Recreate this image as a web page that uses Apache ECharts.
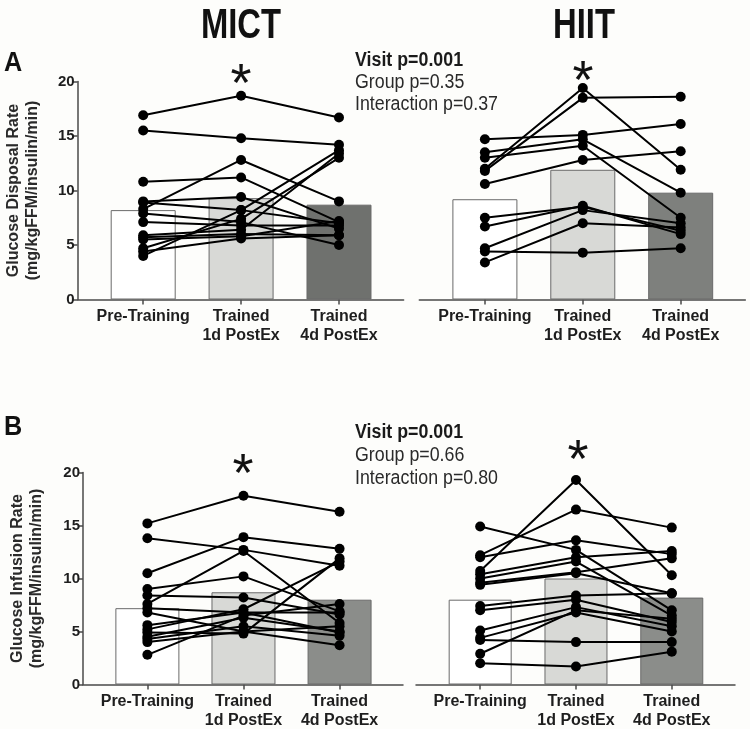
<!DOCTYPE html>
<html>
<head>
<meta charset="utf-8">
<script src="https://cdn.jsdelivr.net/npm/echarts@6/dist/echarts.min.js"></script>
<style>
html,body{margin:0;padding:0;background:#fdfdfb;}
#chart{width:750px;height:729px;}
</style>
</head>
<body>
<div id="chart"></div>
<script>
// ---- categories / ticks ----
const categories = ['Pre-Training', 'Trained\n1d PostEx', 'Trained\n4d PostEx'];
const yTicks = [0, 5, 10, 15, 20];

// ---- Panel A: Glucose Disposal Rate, MICT ----
const gdrMictPre = [16.9, 15.5, 10.8, 9.0, 8.3, 8.9, 7.9, 7.1, 5.9, 5.7, 5.5, 4.7, 4.4, 4.0];
const gdrMictD1  = [18.7, 14.8, 11.2, 9.4, 12.8, 8.2, 7.1, 6.8, 6.4, 6.0, 5.8, 7.4, 5.6, 8.2];
const gdrMictD4  = [16.7, 14.2, 7.1, 6.5, 9.0, 7.0, 5.0, 6.8, 13.4, 5.9, 7.2, 13.0, 5.9, 13.7];
const gdrMictBars = [8.2, 9.3, 8.7];

// ---- Panel A: Glucose Disposal Rate, HIIT ----
const gdrHiitPre = [14.7, 13.5, 13.0, 12.0, 11.8, 10.6, 7.5, 6.7, 4.7, 4.4, 3.4];
const gdrHiitD1  = [15.1, 14.7, 14.1, 19.4, 18.5, 12.8, 8.5, 8.6, 8.2, 4.3, 7.0];
const gdrHiitD4  = [16.1, 9.8, 7.5, 11.9, 18.6, 13.6, 6.3, 6.0, 7.0, 4.7, 6.6];
const gdrHiitBars = [9.2, 11.9, 9.8];

// ---- Panel B: Glucose Infusion Rate, MICT ----
const girMictPre = [15.2, 13.8, 10.5, 9.0, 8.4, 7.6, 7.2, 6.8, 5.6, 5.2, 4.9, 4.5, 4.3, 4.0, 2.8];
const girMictD1  = [17.8, 12.7, 13.9, 10.2, 8.2, 12.6, 6.8, 5.0, 6.8, 7.1, 4.8, 6.3, 5.5, 5.0, 6.5];
const girMictD4  = [16.3, 11.2, 12.8, 6.9, 6.6, 5.8, 6.8, 5.5, 4.9, 11.6, 11.9, 5.0, 4.6, 3.7, 7.6];
const girMictBars = [7.2, 8.7, 8.0];

// ---- Panel B: Glucose Infusion Rate, HIIT ----
const girHiitPre = [14.9, 12.2, 12.0, 10.7, 10.4, 10.0, 9.6, 9.4, 7.4, 7.0, 5.1, 4.4, 4.2, 2.9, 2.0];
const girHiitD1  = [12.7, 16.5, 13.6, 19.3, 12.0, 11.6, 10.6, 10.5, 8.4, 8.0, 7.3, 6.8, 4.0, 7.0, 1.7];
const girHiitD4  = [7.0, 14.8, 12.3, 10.3, 12.6, 6.5, 11.9, 8.6, 8.6, 5.9, 5.5, 5.0, 4.0, 6.2, 3.1];
const girHiitBars = [8.0, 10.0, 8.2];

// ---- texts ----
const groupTitles = ['MICT', 'HIIT'];
const panelLetters = ['A', 'B'];
const yNames = ['Glucose Disposal Rate\n(mg/kgFFM/insulin/min)', 'Glucose Infusion Rate\n(mg/kgFFM/insulin/min)'];
const statsA = ['Visit p=0.001', 'Group p=0.35', 'Interaction p=0.37'];
const statsB = ['Visit p=0.001', 'Group p=0.66', 'Interaction p=0.80'];

const FONT = '"Liberation Sans", Arial, sans-serif';
const X_MIN = -0.67, X_MAX = 2.66;

const panels = [
  {grid:{left:77.6, top:81.5, width:326, height:218}, showY:true, yName:yNames[0], nameGap:36, pre:gdrMictPre, d1:gdrMictD1, d4:gdrMictD4, bars:gdrMictBars, barW:65, colors:['#ffffff','#d8d9d6','#6f716e']},
  {grid:{left:419.3, top:81.5, width:326, height:218}, showY:false, yName:'', nameGap:36, pre:gdrHiitPre, d1:gdrHiitD1, d4:gdrHiitD4, bars:gdrHiitBars, barW:65, colors:['#ffffff','#d8d9d6','#7e807d']},
  {grid:{left:83, top:472.5, width:320, height:212}, showY:true, yName:yNames[1], nameGap:37, pre:girMictPre, d1:girMictD1, d4:girMictD4, bars:girMictBars, barW:64, colors:['#ffffff','#d8d9d6','#8b8d8a']},
  {grid:{left:416, top:472.5, width:319, height:212}, showY:false, yName:'', nameGap:36, pre:girHiitPre, d1:girHiitD1, d4:girHiitD4, bars:girHiitBars, barW:63, colors:['#ffffff','#d8d9d6','#8b8d8a']}
];

const grids = [], xAxes = [], yAxes = [], series = [];
panels.forEach((p, i) => {
  grids.push(Object.assign({containLabel:false, outerBoundsMode:'none'}, p.grid));
  xAxes.push({
    type:'value', gridIndex:i, min:X_MIN, max:X_MAX,
    axisLine:{show:true, onZero:false, lineStyle:{color:'#4a4a4a', width:1.5}},
    axisTick:{show:true, customValues:[0,1,2], length:5, lineStyle:{color:'#4a4a4a', width:1.5}},
    axisLabel:{show:true, customValues:[0,1,2], formatter:(v)=>categories[Math.round(v)] || '',
      color:'#1e1e1e', fontFamily:FONT, fontWeight:'bold', fontSize:16, lineHeight:19, margin:8},
    splitLine:{show:false}
  });
  yAxes.push({
    type:'value', gridIndex:i, min:0, max:20, interval:5, show:p.showY,
    name:p.yName, nameLocation:'middle', nameGap:p.nameGap,
    nameTextStyle:{color:'#2a2a2a', fontFamily:FONT, fontWeight:'bold', fontSize:16, lineHeight:19},
    axisLine:{show:true, onZero:false, lineStyle:{color:'#4a4a4a', width:1.5}},
    axisTick:{show:true, length:5, lineStyle:{color:'#4a4a4a', width:1.5}},
    axisLabel:{color:'#1e1e1e', fontFamily:FONT, fontWeight:'bold', fontSize:15, margin:3},
    splitLine:{show:false}
  });
  series.push({
    type:'bar', xAxisIndex:i, yAxisIndex:i, barWidth:p.barW, z:1, silent:true,
    data:p.bars.map((v,k)=>({value:[k,v], itemStyle:{color:p.colors[k], borderColor:'#6a6a6a', borderWidth:1}}))
  });
  p.pre.forEach((v, s) => {
    series.push({
      type:'line', xAxisIndex:i, yAxisIndex:i, z:3, silent:true,
      symbol:'circle', symbolSize:10, animation:false,
      lineStyle:{color:'#000', width:2}, itemStyle:{color:'#000'},
      data:[[0, p.pre[s]], [1, p.d1[s]], [2, p.d4[s]]]
    });
  });
});

function txt(x, y, text, opts) {
  return Object.assign({type:'text', x:x, y:y, silent:true,
    style:Object.assign({text:text, fill:'#111', textAlign:'left', textVerticalAlign:'middle'}, opts.style || {})},
    opts.el || {});
}

const statFont = 20, statScale = 0.89;
const graphics = [
  txt(241, 26, groupTitles[0], {style:{font:'bold 42px '+FONT, textAlign:'center'}, el:{scaleX:0.78}}),
  txt(584, 26, groupTitles[1], {style:{font:'bold 42px '+FONT, textAlign:'center'}, el:{scaleX:0.78}}),
  txt(4, 63, panelLetters[0], {style:{font:'bold 28px '+FONT}, el:{scaleX:0.9}}),
  txt(4, 427, panelLetters[1], {style:{font:'bold 28px '+FONT}, el:{scaleX:0.9}}),
  txt(355, 60, statsA[0], {style:{font:'bold '+statFont+'px '+FONT, fill:'#1a1a1a'}, el:{scaleX:statScale}}),
  txt(355, 82, statsA[1], {style:{font:statFont+'px '+FONT, fill:'#2a2a2a'}, el:{scaleX:statScale}}),
  txt(355, 104, statsA[2], {style:{font:statFont+'px '+FONT, fill:'#2a2a2a'}, el:{scaleX:statScale}}),
  txt(355, 432, statsB[0], {style:{font:'bold '+statFont+'px '+FONT, fill:'#1a1a1a'}, el:{scaleX:statScale}}),
  txt(355, 455, statsB[1], {style:{font:statFont+'px '+FONT, fill:'#2a2a2a'}, el:{scaleX:statScale}}),
  txt(355, 478, statsB[2], {style:{font:statFont+'px '+FONT, fill:'#2a2a2a'}, el:{scaleX:statScale}}),
  txt(241, 86, '*', {style:{font:'54px '+FONT, textAlign:'center'}}),
  txt(583, 83, '*', {style:{font:'54px '+FONT, textAlign:'center'}}),
  txt(243, 476, '*', {style:{font:'54px '+FONT, textAlign:'center'}}),
  txt(578, 462, '*', {style:{font:'54px '+FONT, textAlign:'center'}})
];

const chart = echarts.init(document.getElementById('chart'), null, {renderer:'canvas'});
chart.setOption({
  backgroundColor:'#fdfdfb',
  animation:false,
  grid:grids, xAxis:xAxes, yAxis:yAxes, series:series,
  graphic:graphics
});
</script>
</body>
</html>
